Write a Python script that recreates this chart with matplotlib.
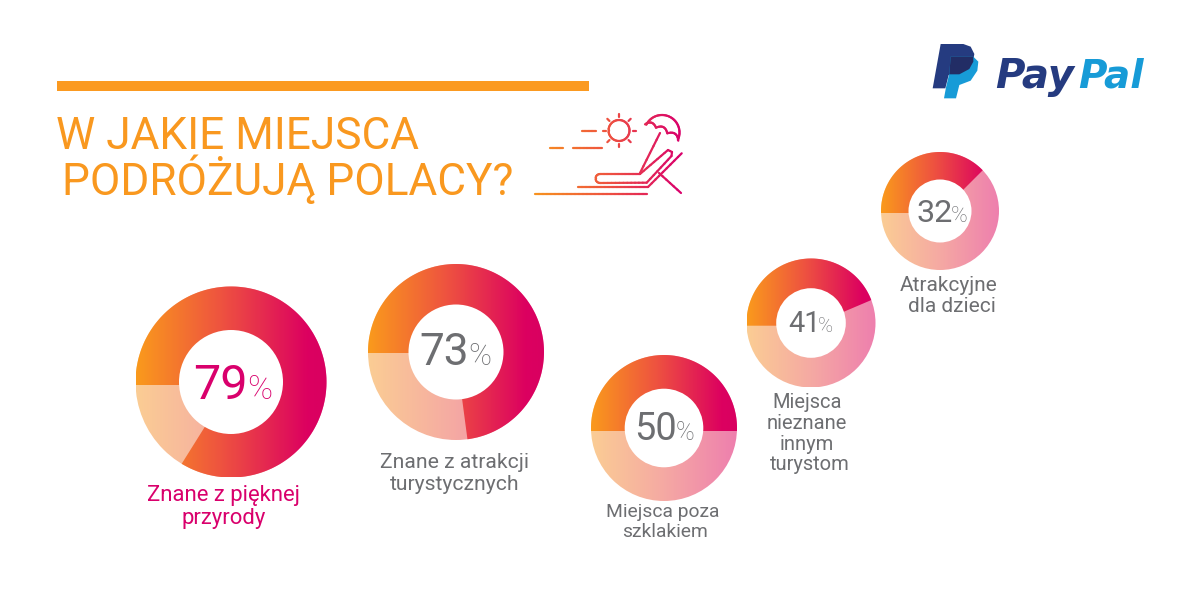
# -*- coding: utf-8 -*-
import numpy as np
import matplotlib
matplotlib.use('Agg')
import matplotlib.pyplot as plt
from matplotlib.colors import LinearSegmentedColormap
from matplotlib.patches import Circle, Polygon, Rectangle
from matplotlib.collections import LineCollection

# chart data
percent_labels = ['79', '73', '50', '41', '32']
drawn_shares = [83.9, 72.9, 50.0, 43.6, 37.5]   # arc as drawn, not always the printed number
labels = [['Znane z pięknej', 'przyrody'],
          ['Znane z atrakcji', 'turystycznych'],
          ['Miejsca poza', 'szklakiem'],
          ['Miejsca', 'nieznane', 'innym', 'turystom'],
          ['Atrakcyjne', 'dla dzieci']]
title_lines = ['W JAKIE MIEJSCA', 'PODRÓŻUJĄ POLACY?']

# layout, in image pixels
centers = [(231, 382), (456, 352), (664, 428), (811, 323), (940, 211)]
outer_r = [95.5, 88, 73, 64.5, 59]
inner_r = [52, 47.5, 39.3, 34.8, 31.5]
seam_off = [3, 1, 3, 2.7, 2]
num_left = [193, 419, 634, 788, 916]
num_base = [399, 365, 440, 332, 222]
num_size = [34.5, 31.5, 27, 20.5, 23]
pct_left = [247, 468, 676, 818, 951]
pct_size = [24, 22, 18, 14.5, 16]
label_x = [(223, 224), (455, 455), (663, 665), (807, 807, 807, 810), (949, 952)]
label_y = [(501, 524), (468, 490), (517, 537), (408, 429, 450, 470), (291, 312)]
label_pt = [15.9, 15.2, 13.9, 14.5, 15.0]

FONT = 'Roboto'
ORANGE = '#f9981f'
PINK = '#d9006c'
GRAY = '#6d6e71'
strong = LinearSegmentedColormap.from_list('strong', [(0, '#fa9a1c'), (0.45, '#ee5240'), (0.9, '#dc0060'), (1, '#d90060')])
pale = LinearSegmentedColormap.from_list('pale', ['#fbcd94', '#f5a9a3', '#ee7fae'])
icon_cm = LinearSegmentedColormap.from_list('icon', ['#f7941e', '#ee5240', '#d9006c'])

fig = plt.figure(figsize=(12, 5.92), dpi=100)
ax = fig.add_axes([0, 0, 1, 1])
ax.set_xlim(0, 1200)
ax.set_ylim(592, 0)
ax.axis('off')


def pts(px_h, cap=0.711):
    # font size in points for a given cap height in pixels
    return px_h / cap * 0.72


def ray_hit(cx, cy, R, off, ang):
    # where a ray from the seam point meets the outer circle, as a circle angle
    dx, dy = np.cos(ang), np.sin(ang)
    b = -off * dy
    t = -b + np.sqrt(b * b - (off * off - R * R))
    return np.arctan2(-off + t * dy, t * dx)


def donut(c, R, r, off, share):
    cx, cy = c
    grad = np.linspace(0, 1, 256).reshape(1, -1)
    ext = (cx - R, cx + R, cy + R, cy - R)
    im = ax.imshow(grad, cmap=pale, extent=ext, aspect='auto', zorder=1)
    im.set_clip_path(Circle(c, R, transform=ax.transData))
    a0 = ray_hit(cx, cy, R, off, np.pi)
    a1 = ray_hit(cx, cy, R, off, np.pi - share / 100 * 2 * np.pi)
    if a0 < 0:
        a0 += 2 * np.pi
    while a1 > a0:
        a1 -= 2 * np.pi
    aa = np.linspace(a0, a1, 200)
    poly = [(cx, cy + off)] + [(cx + R * np.cos(a), cy - R * np.sin(a)) for a in aa]
    im2 = ax.imshow(grad, cmap=strong, extent=ext, aspect='auto', zorder=2)
    im2.set_clip_path(Polygon(poly, closed=True, transform=ax.transData))
    ax.add_patch(Circle(c, r, fc='white', ec='none', zorder=3))


for i in range(5):
    donut(centers[i], outer_r[i], inner_r[i], seam_off[i], drawn_shares[i])
    col = PINK if i == 0 else GRAY
    ax.text(num_left[i], num_base[i], percent_labels[i], color=col, family=FONT,
            fontsize=pts(num_size[i]), ha='left', va='baseline', zorder=4)
    ax.text(pct_left[i], num_base[i], '%', color=col, family=FONT, weight='light',
            fontsize=pts(pct_size[i]), ha='left', va='baseline', zorder=4)
    for line, x, y in zip(labels[i], label_x[i], label_y[i]):
        ax.text(x, y, line, color=col, family=FONT, fontsize=label_pt[i],
                ha='center', va='baseline', zorder=4)

# header
ax.add_patch(Rectangle((57, 81), 532, 10, fc='#fb9a21', ec='none'))
ax.text(56, 149, title_lines[0], color=ORANGE, family=FONT, fontsize=pts(31.5),
        ha='left', va='baseline')
ax.text(62, 195, title_lines[1], color=ORANGE, family=FONT, fontsize=pts(31.5),
        ha='left', va='baseline')


# deck chair icon
def icon_line(points, lw=1.6):
    p = np.array(points, dtype=float)
    segs = []
    for a, b in zip(p[:-1], p[1:]):
        n = max(2, int(abs(b[0] - a[0]) / 4) + 2)
        xs = np.linspace(a[0], b[0], n)
        ys = np.linspace(a[1], b[1], n)
        segs += [[(xs[k], ys[k]), (xs[k + 1], ys[k + 1])] for k in range(n - 1)]
    mids = [(s[0][0] + s[1][0]) / 2 for s in segs]
    lc = LineCollection(segs, colors=icon_cm((np.array(mids) - 535) / 147), linewidths=lw, capstyle='round')
    ax.add_collection(lc)


icon_line([(550, 147.7), (563, 147.7)])
icon_line([(573, 147.7), (601.5, 147.7)])
icon_line([(582, 130.7), (595.5, 130.7)])
t = np.linspace(0, 2 * np.pi, 50)
icon_line(list(zip(619 + 10.5 * np.cos(t), 130.5 + 10.5 * np.sin(t))))
for a in np.arange(8) * np.pi / 4:
    icon_line([(619 + 13.5 * np.cos(a), 130.5 + 13.5 * np.sin(a)),
               (619 + 16.5 * np.cos(a), 130.5 + 16.5 * np.sin(a))])
# umbrella
t = np.linspace(np.radians(154), np.radians(-25), 40)
icon_line(list(zip(662 + 17.5 * np.cos(t), 132.5 - 17.5 * np.sin(t))))
ribs = [(645, 124.3), (656, 127.7), (667.3, 133.3), (678.3, 140.7)]
for p0, p1 in zip(ribs[:-1], ribs[1:]):
    s = np.linspace(0, 1, 12)
    nx, ny = (p1[1] - p0[1]) * 0.3, -(p1[0] - p0[0]) * 0.3
    icon_line([(p0[0] + (p1[0] - p0[0]) * k + nx * 4 * k * (1 - k),
                p0[1] + (p1[1] - p0[1]) * k + ny * 4 * k * (1 - k)) for k in s])
icon_line([(660, 133), (640, 173)])
# chair
t = np.linspace(np.pi / 2, 3 * np.pi / 2, 10)
icon_line([(640, 174), (600, 174)] + list(zip(600 + 4.5 * np.cos(t), 178.5 - 4.5 * np.sin(t))) +
          [(600, 183), (646.7, 182.7), (671.5, 156), (672, 152), (668, 150), (640, 174)])
icon_line([(578, 187), (648, 187), (681.7, 153.3)])
icon_line([(535, 193.7), (646.7, 193.7)])
icon_line([(659, 173), (681, 193)])


# logo
def logo_pts(zp):
    return [(920 + x / 3, 30 + y / 3) for x, y in zp]


ax.add_patch(Polygon(logo_pts([(62, 42), (130, 42), (152, 50), (163, 72), (158, 100), (140, 122), (118, 133),
                               (86, 135), (76, 175), (38, 175)]), fc='#253b80', ec='none', zorder=5))
ax.add_patch(Polygon(logo_pts([(92, 80), (160, 80), (175, 95), (172, 122), (152, 152), (118, 165), (108, 205),
                               (72, 205), (78, 172), (88, 130)]), fc='#179bd7', ec='none', zorder=6))
ax.add_patch(Polygon(logo_pts([(92, 80), (160, 80), (160, 95), (148, 117), (118, 133), (88, 133)]),
                     fc='#222d65', ec='none', zorder=7))
ax.text(995, 88, 'Pay', color='#253b80', family='DejaVu Sans', weight='bold', style='italic', fontsize=29,
        ha='left', va='baseline', zorder=8)
ax.text(1144, 88, 'Pal', color='#179bd7', family='DejaVu Sans', weight='bold', style='italic', fontsize=28,
        ha='right', va='baseline', zorder=8)

fig.savefig('out.png', dpi=100, facecolor='white')
